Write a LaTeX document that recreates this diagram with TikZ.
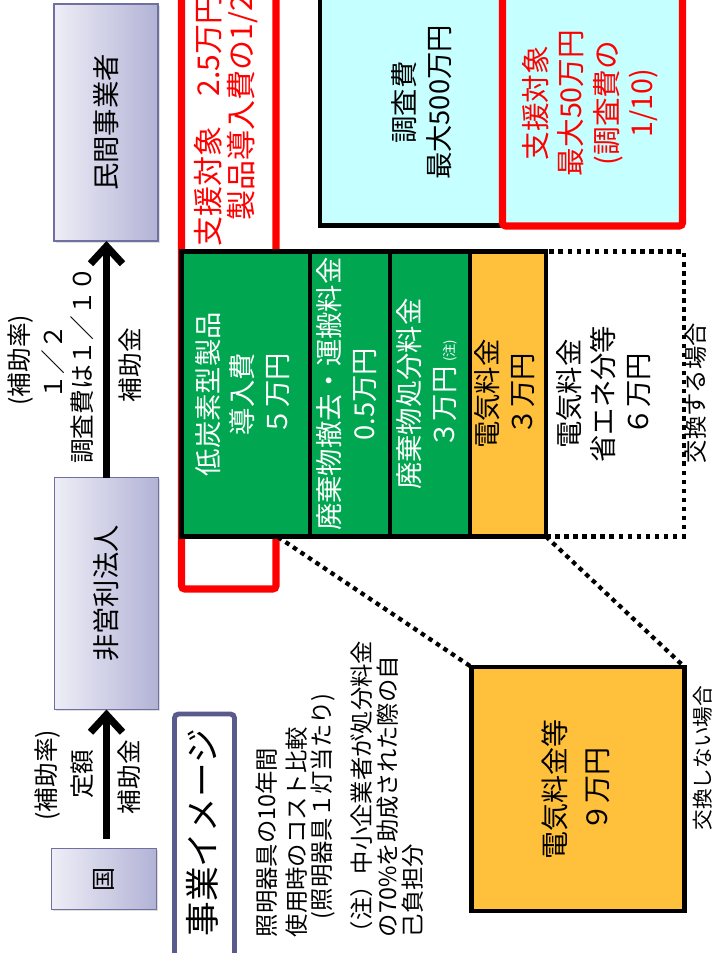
\documentclass[tikz,border=0pt]{standalone}
\usepackage{fontspec}
\setmainfont{Noto Sans CJK JP}
\usepackage{graphicx}
\usetikzlibrary{arrows.meta,shadows}
\definecolor{lavL}{HTML}{EEEEF7}
\definecolor{lavR}{HTML}{B2B2D6}
\definecolor{lavB}{HTML}{7070A0}
\definecolor{navy}{HTML}{5A5A8C}
\definecolor{grn}{HTML}{00A650}
\definecolor{org}{HTML}{FFC03C}
\definecolor{cyn}{HTML}{C6FFFF}
\definecolor{rd}{HTML}{FF0000}
\def\pxu{*0.75pt}
\newcommand\rt[1]{\rotatebox{90}{\begin{tabular}{@{}c@{}}#1\end{tabular}}}
\newcommand\rl[1]{\rotatebox{90}{#1}}
\newcommand\fs[2]{\fontsize{#1}{#2}\selectfont}
\tikzset{
  lav/.style={draw=lavB, line width=1.1pt, left color=lavL, right color=lavR, inner sep=0pt, outer sep=0pt,
    drop shadow={shadow xshift=1.2pt, shadow yshift=-1.2pt, opacity=0.25}},
  cell/.style={draw=black, line width=3.6pt, inner sep=0pt, outer sep=0pt},
  gcell/.style={cell, fill=grn, text=white, font=\fs{20.5pt}{26pt}},
  ocell/.style={cell, fill=org, text=black, font=\fs{20.5pt}{26pt}},
  redframe/.style={draw=rd, line width=5.4pt, rounded corners=2.5pt, inner sep=0pt, outer sep=0pt},
  dotline/.style={line width=3.2pt, dash pattern=on 3.4pt off 3.4pt},
  bigarr/.style={line width=5.5pt, -{Straight Barb[length=13pt,width=24pt]}},
  lbl/.style={inner sep=0pt, outer sep=0pt, font=\fs{18.5pt}{22pt}},
  note/.style={inner sep=0pt, outer sep=0pt, font=\fs{17.5pt}{21pt}, anchor=south},
  redtxt/.style={inner sep=0pt, outer sep=0pt, text=rd, font=\fs{22.5pt}{27pt}},
}
\begin{document}
\begin{tikzpicture}[x=0.75pt,y=-0.75pt]
\useasboundingbox (0,0) rectangle (712,953);
\fill[white] (0,0) rectangle (712,953);
% product support frame
\node[redframe, fill=white, minimum width=94.5\pxu, minimum height=620\pxu] (sup1) at (228.75,279) {};
\node[redtxt, anchor=south] (sup1a) at (208,246) {\rl{支援対象　2.5万円}};
\node[redtxt, anchor=south] (sup1b) at (243,220) {\rl{製品導入費の1/2}};
% survey cost
\node[cell, fill=cyn, minimum width=210\pxu, minimum height=246\pxu, font=\fs{20.5pt}{26pt}] (survey) at (425,102.5) {\rt{調査費\\最大500万円}};
\node[redframe, fill=cyn, text=rd, minimum width=180\pxu, minimum height=246\pxu, font=\fs{21.5pt}{26.5pt}] (sup2) at (592.5,103) {\rt{支援対象\\最大50万円\\(調査費の\\1/10)}};
% replacement case
\node[dotline, draw, minimum width=138\pxu, minimum height=285\pxu, inner sep=0pt, outer sep=0pt] (rep) at (615,394) {};
\node[inner sep=0pt, font=\fs{20.5pt}{26pt}] (reptxt) at (607,394) {\rt{電気料金\\省エネ分等\\６万円}};
\node[lbl, font=\fs{17.5pt}{20pt}] (repl) at (696,393) {\rl{交換する場合}};
\node[gcell, minimum width=128.5\pxu, minimum height=285\pxu] (g1) at (245.75,394) {\rt{低炭素型製品\\導入費\\５万円}};
\node[gcell, minimum width=80\pxu, minimum height=285\pxu] (g2) at (350,394) {\rt{廃棄物撤去・運搬料金\\0.5万円}};
\node[gcell, minimum width=80\pxu, minimum height=285\pxu] (g3) at (430,394) {\rt{廃棄物処分料金\\３万円\,{\fs{10pt}{12pt}(注)}}};
\node[ocell, minimum width=76\pxu, minimum height=285\pxu] (o4) at (508,394) {\rt{電気料金\\３万円}};
% no replacement case
\coordinate (c1) at (278,537);
\node[cell, fill=org, minimum width=213\pxu, minimum height=244\pxu, font=\fs{21pt}{32pt}] (nine) at (578,789) {\rt{電気料金等\\９万円}};
\draw[dotline] (c1) -- (nine.north west);
\draw[dotline] (o4.south east) -- (nine.north east);
\node[lbl, font=\fs{15.5pt}{18pt}] (nol) at (703,758) {\rl{交換しない場合}};
% image box and notes
\node[draw=navy, line width=3.7pt, fill=white, rounded corners=3pt, minimum width=60\pxu, minimum height=280\pxu, inner sep=0pt] (imgbox) at (204.5,854) {};
\node[inner sep=0pt, font=\fs{26pt}{30pt}] (imgt) at (202,833) {\rl{事業イメージ}};
\node[note] (n1) at (267,937) {\rl{照明器具の10年間}};
\node[note] (n2) at (297,937) {\rl{使用時のコスト比較}};
\node[note] (n3) at (323,919) {\rl{(照明器具１灯当たり)}};
\node[note] (n4) at (362,944) {\rl{（注）中小企業者が処分料金}};
\node[note] (n5) at (388,937) {\rl{の70\%を助成された際の自}};
\node[note] (n6) at (413,937) {\rl{己負担分}};
% actors
\node[lav, minimum width=104\pxu, minimum height=237\pxu, font=\fs{20.5pt}{24pt}] (minkan) at (106,122.5) {\rl{民間事業者}};
\node[lav, minimum width=104\pxu, minimum height=232\pxu, font=\fs{20.5pt}{24pt}] (hieiri) at (106.5,593.5) {\rl{非営利法人}};
\node[lav, minimum width=105\pxu, minimum height=61\pxu, font=\fs{18pt}{22pt}] (kuni) at (104,879) {\rl{国}};
\draw[bigarr] (hieiri.north) -- (hieiri.north |- minkan.south);
\draw[bigarr, shorten <=7.5pt] (hieiri.south |- kuni.north) -- (hieiri.south);
\node[lbl] (r1a) at (21,360) {\rl{(補助率)}};
\node[lbl] (r1b) at (53,362) {\rl{１／２}};
\node[lbl] (r1c) at (82,365) {\rl{調査費は１／１０}};
\node[lbl] (h1) at (130,365) {\rl{補助金}};
\node[lbl] (r2a) at (48,775) {\rl{(補助率)}};
\node[lbl] (r2b) at (82,774) {\rl{定額}};
\node[lbl] (h2) at (129,777) {\rl{補助金}};
\end{tikzpicture}
\end{document}
